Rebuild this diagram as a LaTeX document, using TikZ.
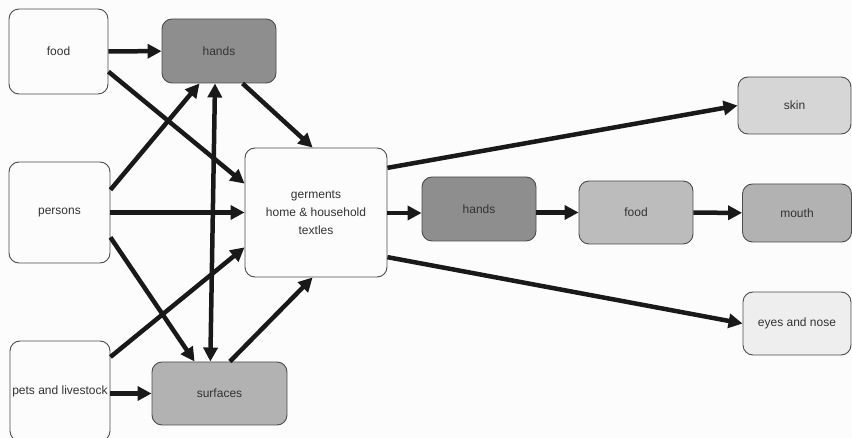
\documentclass[tikz,border=0pt]{standalone}
\usepackage{fontspec}
\setmainfont{Liberation Sans}
\usetikzlibrary{arrows.meta}

\definecolor{darkbox}{HTML}{8E8E8E}
\definecolor{midbox}{HTML}{B2B2B2}
\definecolor{lightbox}{HTML}{D6D6D6}
\definecolor{foodbox}{HTML}{BCBCBC}
\definecolor{palebox}{HTML}{EEEEEE}
\definecolor{whitebox}{HTML}{FCFCFC}
\definecolor{textgray}{HTML}{333333}

\begin{document}
\begin{tikzpicture}[x=1pt,y=-1pt,
  box/.style={draw=black!70,line width=0.9pt,rounded corners=10pt,
    fill=whitebox,text=textgray,align=center,inner sep=1pt,
    font=\fontsize{12}{18}\selectfont},
  flow/.style={line width=4.5pt,black!90,-{Triangle[length=14pt,width=14pt]}},
  both/.style={line width=4.5pt,black!90,{Triangle[length=14pt,width=14pt]}-{Triangle[length=14pt,width=14pt]}}]
  \useasboundingbox[fill=white!99!black] (0,0) rectangle (852,438);

  % Draw the sources on the left
  \node[box,minimum width=99pt,minimum height=85pt] (food) at (58.5,51.5) {food};
  \node[box,minimum width=101pt,minimum height=101pt] (persons) at (59.5,212.5) {persons};
  \node[box,minimum width=100pt,minimum height=100pt] (pets) at (60,391) {pets and livestock};

  % Draw hands and surfaces
  \node[box,fill=darkbox,minimum width=114pt,minimum height=64pt] (hands) at (219,51) {hands};
  \node[box,fill=midbox,minimum width=135pt,minimum height=63pt] (surfaces) at (219.5,393.5) {surfaces};

  % Draw the textiles in the middle
  \node[box,minimum width=142pt,minimum height=129pt] (textiles) at (316,212.5)
    {germents\\home \& household\\textles};

  % Draw the targets on the right
  \node[box,fill=darkbox,minimum width=114pt,minimum height=64pt] (handsB) at (479,209) {hands};
  \node[box,fill=foodbox,minimum width=114pt,minimum height=63pt] (foodB) at (636,212.5) {food};
  \node[box,fill=midbox,minimum width=109pt,minimum height=58pt] (mouth) at (797,213) {mouth};
  \node[box,fill=lightbox,minimum width=113pt,minimum height=57pt] (skin) at (794.5,105.5) {skin};
  \node[box,fill=palebox,minimum width=108pt,minimum height=63pt] (eyes) at (797,323.5) {eyes and nose};

  % Arrows from the sources
  \draw[flow] (food) -- (hands);
  \draw[flow] (food.-22) -- (textiles.158);
  \draw[flow] (persons.24) -- (hands.-121);
  \draw[flow] (persons) -- (textiles);
  \draw[flow] (persons.-26) -- (surfaces.128);
  \draw[flow] (pets.34) -- (textiles.-154);
  \draw[flow] (pets.east |- surfaces.west) -- (surfaces.west);

  % Arrows between hands, surfaces and textiles
  \draw[flow] (hands.-54) -- (textiles.93);
  \draw[both] (hands.-97) -- (surfaces.106);
  \draw[flow] (surfaces.72) -- (textiles.-93);

  % Arrows to the targets
  \draw[flow] (textiles.32) -- (skin.west);
  \draw[flow] (textiles.east |- 0,213) -- (handsB.west |- 0,213);
  \draw[flow] (handsB.east |- foodB.west) -- (foodB.west);
  \draw[flow] (foodB) -- (mouth);
  \draw[flow] (textiles.-32) -- (eyes.west);
\end{tikzpicture}
\end{document}
